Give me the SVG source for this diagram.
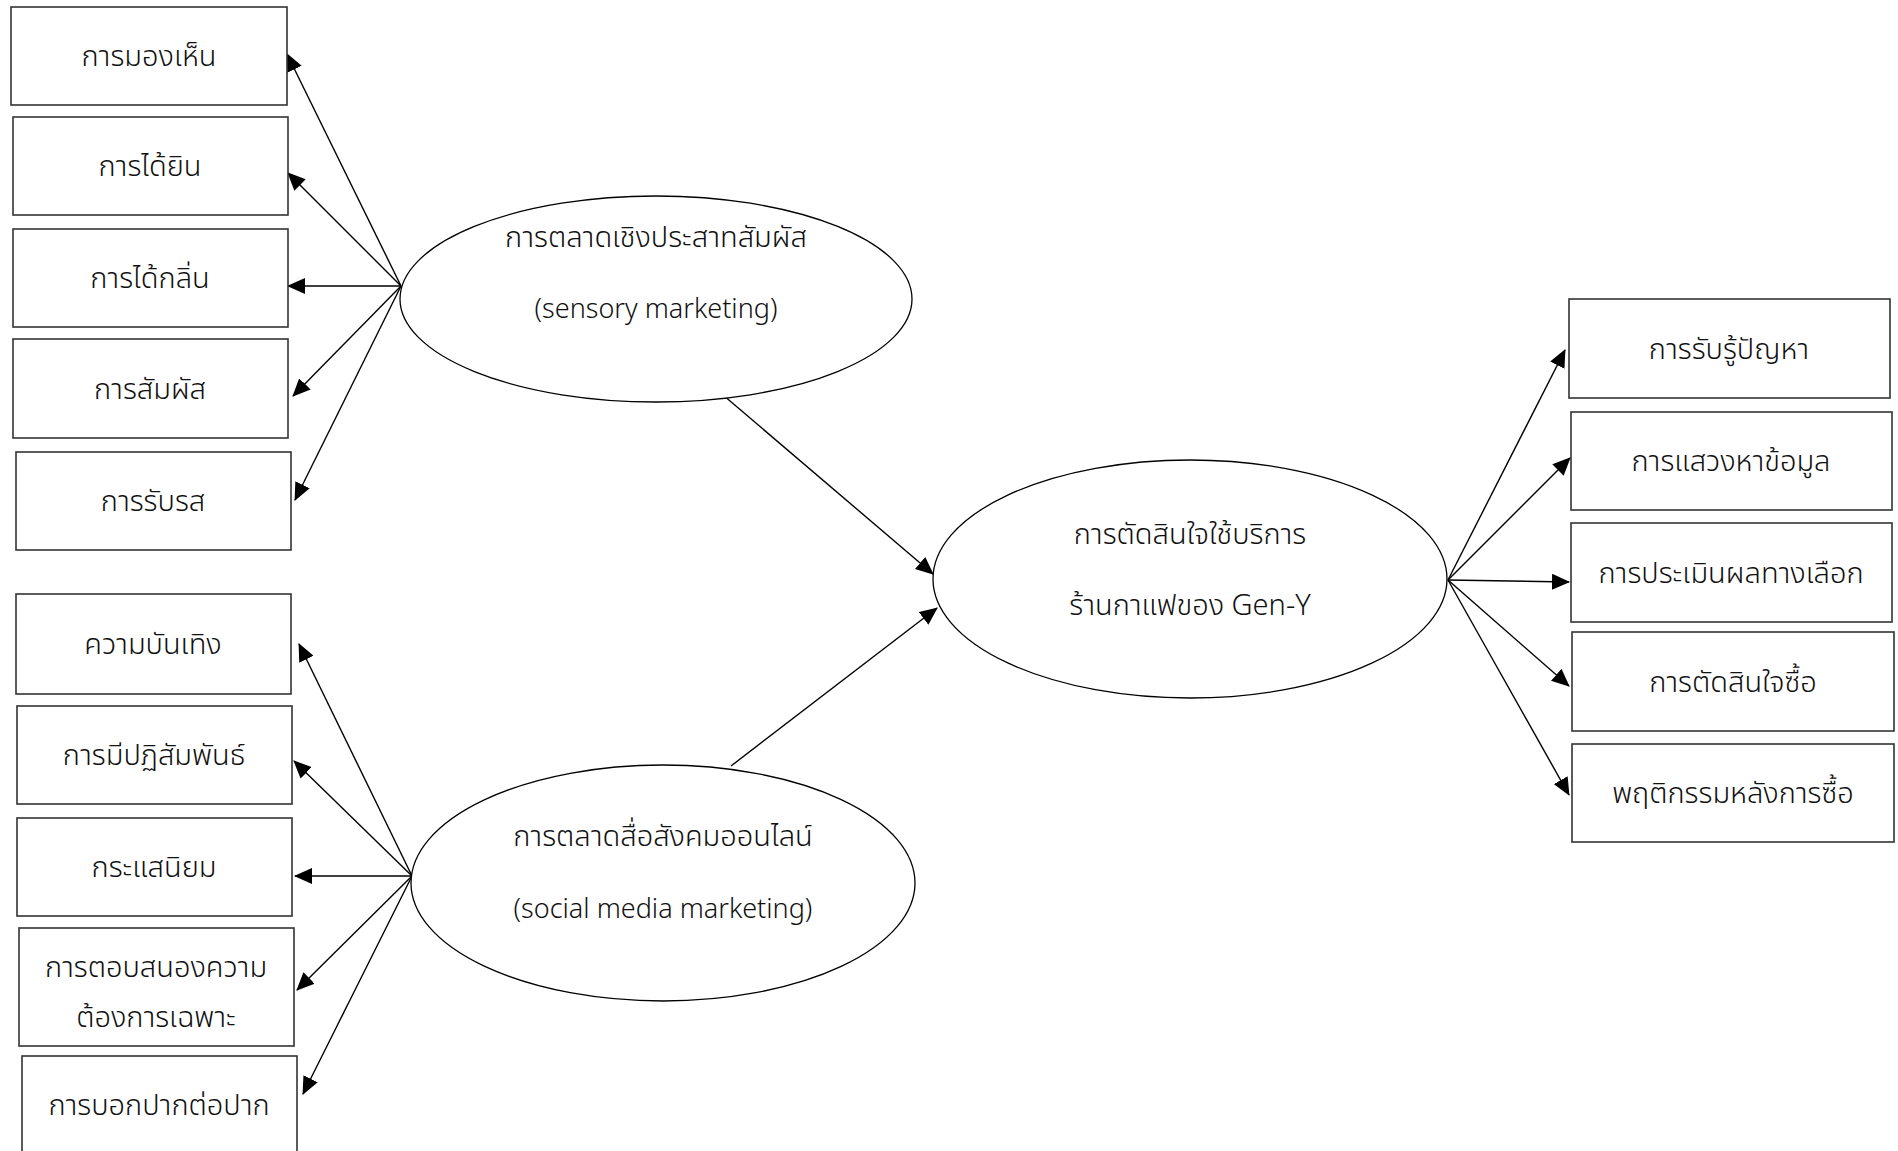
<svg xmlns="http://www.w3.org/2000/svg" width="1898" height="1151" viewBox="0 0 1898 1151">
<style>
.box{fill:#fff;stroke:#333;stroke-width:1.6}
.ell{fill:#fff;stroke:#000;stroke-width:1.3}
.lbl{font-family:"Noto Sans Thai","Noto Sans","Open Sans","DejaVu Sans",sans-serif;font-size:29px;font-weight:300;fill:#111;text-anchor:middle}
.lat{font-size:27px}
.con{stroke:#000;stroke-width:1.4;fill:none;marker-end:url(#ah)}
</style>
<defs>
<marker id="ah" markerWidth="18" markerHeight="16" refX="17" refY="8" orient="auto" markerUnits="userSpaceOnUse">
<path d="M0,0 L18,8 L0,16 Z" fill="#000"/>
</marker>
</defs>
<rect width="1898" height="1151" fill="#fff"/>
<g id="connectors">
<line class="con" x1="401" y1="286" x2="287" y2="54"/>
<line class="con" x1="401" y1="286" x2="288" y2="173"/>
<line class="con" x1="401" y1="286" x2="288" y2="286"/>
<line class="con" x1="401" y1="286" x2="293" y2="396"/>
<line class="con" x1="401" y1="286" x2="295" y2="500"/>
<line class="con" x1="412" y1="876" x2="299" y2="644"/>
<line class="con" x1="412" y1="876" x2="294" y2="761"/>
<line class="con" x1="412" y1="876" x2="295" y2="876"/>
<line class="con" x1="412" y1="876" x2="297" y2="990"/>
<line class="con" x1="412" y1="876" x2="303" y2="1094"/>
<line class="con" x1="723" y1="395" x2="933" y2="574"/>
<line class="con" x1="731" y1="766" x2="937" y2="608"/>
<line class="con" x1="1448" y1="580" x2="1565" y2="350"/>
<line class="con" x1="1448" y1="580" x2="1570" y2="458"/>
<line class="con" x1="1448" y1="580" x2="1569" y2="582"/>
<line class="con" x1="1448" y1="580" x2="1569" y2="686"/>
<line class="con" x1="1448" y1="580" x2="1569" y2="795"/>
</g>
<g id="n1"><rect class="box" x="11" y="7" width="276" height="98"/><text class="lbl" x="149" y="66">การมองเห็น</text></g>
<g id="n2"><rect class="box" x="13" y="117" width="275" height="98"/><text class="lbl" x="150" y="176">การได้ยิน</text></g>
<g id="n3"><rect class="box" x="13" y="229" width="275" height="98"/><text class="lbl" x="150" y="288">การได้กลิ่น</text></g>
<g id="n4"><rect class="box" x="13" y="339" width="275" height="99"/><text class="lbl" x="150" y="399">การสัมผัส</text></g>
<g id="n5"><rect class="box" x="16" y="452" width="275" height="98"/><text class="lbl" x="153" y="511">การรับรส</text></g>
<g id="n6"><rect class="box" x="16" y="594" width="275" height="100"/><text class="lbl" x="153" y="654">ความบันเทิง</text></g>
<g id="n7"><rect class="box" x="17" y="706" width="275" height="98"/><text class="lbl" x="154" y="765">การมีปฏิสัมพันธ์</text></g>
<g id="n8"><rect class="box" x="17" y="818" width="275" height="98"/><text class="lbl" x="154" y="877">กระแสนิยม</text></g>
<g id="n9"><rect class="box" x="19" y="928" width="275" height="118"/><text class="lbl" x="156" y="977">การตอบสนองความ</text><text class="lbl" x="156" y="1027">ต้องการเฉพาะ</text></g>
<g id="n10"><rect class="box" x="22" y="1056" width="275" height="110"/><text class="lbl" x="159" y="1115">การบอกปากต่อปาก</text></g>
<g id="s1"><ellipse class="ell" cx="656" cy="299" rx="256" ry="103"/><text class="lbl" x="656" y="247">การตลาดเชิงประสาทสัมผัส</text><text class="lbl lat" x="656" y="318">(sensory marketing)</text></g>
<g id="s2"><ellipse class="ell" cx="663" cy="883" rx="252" ry="118"/><text class="lbl" x="663" y="846">การตลาดสื่อสังคมออนไลน์</text><text class="lbl lat" x="663" y="918">(social media marketing)</text></g>
<g id="c"><ellipse class="ell" cx="1190" cy="579" rx="257" ry="119"/><text class="lbl" x="1190" y="544">การตัดสินใจใช้บริการ</text><text class="lbl" x="1190" y="615">ร้านกาแฟของ Gen-Y</text></g>
<g id="r1"><rect class="box" x="1569" y="299" width="321" height="99"/><text class="lbl" x="1729" y="359">การรับรู้ปัญหา</text></g>
<g id="r2"><rect class="box" x="1571" y="412" width="321" height="98"/><text class="lbl" x="1731" y="471">การแสวงหาข้อมูล</text></g>
<g id="r3"><rect class="box" x="1571" y="523" width="321" height="99"/><text class="lbl" x="1731" y="583">การประเมินผลทางเลือก</text></g>
<g id="r4"><rect class="box" x="1572" y="632" width="322" height="99"/><text class="lbl" x="1733" y="692">การตัดสินใจซื้อ</text></g>
<g id="r5"><rect class="box" x="1572" y="744" width="322" height="98"/><text class="lbl" x="1733" y="803">พฤติกรรมหลังการซื้อ</text></g>
</svg>
